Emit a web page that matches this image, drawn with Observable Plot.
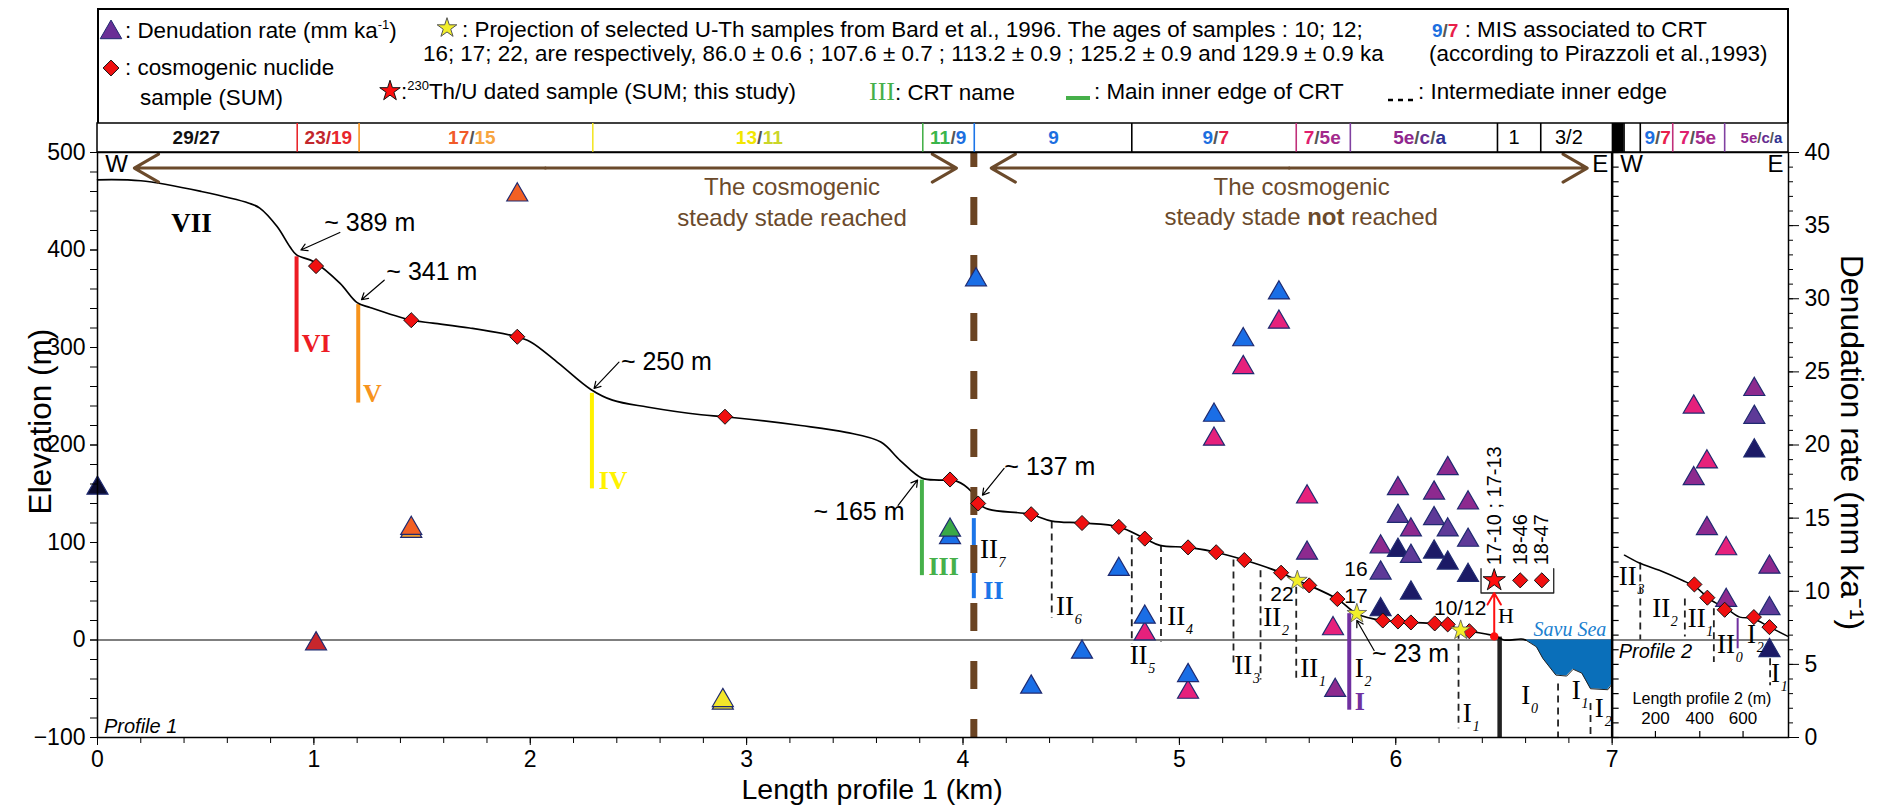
<!DOCTYPE html>
<html><head><meta charset="utf-8">
<script src="https://cdn.jsdelivr.net/npm/d3@7"></script>
<script src="https://cdn.jsdelivr.net/npm/@observablehq/plot@0.6"></script>
<style>
body{margin:0;background:#fff;}
#page{position:relative;width:1881px;height:811px;overflow:hidden;font-family:"Liberation Sans",Arial,sans-serif;background:#fff;}
#legend{position:absolute;left:97px;top:8px;width:1692px;height:116px;box-sizing:border-box;border:2px solid #000;border-bottom:none;}
.lg{position:absolute;white-space:nowrap;font-size:22.4px;line-height:26px;color:#000;}
.lg sup{font-size:13px;vertical-align:9px;line-height:0;}
#chart{position:absolute;left:0;top:123px;}
</style></head>
<body><div id="page"><div id="legend"></div><div id="chart"></div></div>
<script>
// ---------------- DATA ----------------
const profile1 = [[0,472],[0.2,471],[0.48,460],[0.7,448],[0.75,443],[0.83,424],[0.89,403],[0.92,395],[1.0,388],[1.12,366],[1.2,346],[1.26,341],[1.45,328],[1.55,325],[1.72,320],[1.92,312],[2.0,306],[2.13,284],[2.28,257],[2.38,246],[2.54,239],[2.79,231],[2.9,229],[3.25,220],[3.46,213],[3.62,203],[3.71,184],[3.81,166],[3.89,164],[3.97,163],[4.04,152],[4.07,140],[4.12,134],[4.31,129],[4.41,122],[4.55,120],[4.72,116],[4.84,104],[4.91,97],[5.04,95],[5.17,90],[5.30,82],[5.47,69],[5.545,61],[5.60,56],[5.73,42],[5.82,27],[5.94,20],[6.01,19],[6.07,18],[6.18,17],[6.24,16],[6.30,10],[6.34,9],[6.46,4],[6.50,0],[6.58,1],[6.60,0]];
const seaFloor = [[6.60,0],[6.65,-7],[6.68,-19],[6.74,-36],[6.79,-37],[6.82,-30],[6.86,-34],[6.90,-50],[6.98,-51],[7.0,-45]];
const profile2 = [[7.057,87],[7.126,79],[7.218,71.5],[7.326,61],[7.388,54],[7.45,42],[7.53,32],[7.59,23.5],[7.65,22],[7.73,13],[7.81,4]];

const cosmoSamples = [[1.01,383.5],[1.45,328],[1.94,311],[2.90,229],[3.94,164.6],[4.07,140],[4.315,129],[4.55,120],[4.72,116],[4.84,104],[5.04,95],[5.17,90],[5.30,82],[5.47,69],[5.60,56],[5.73,42],[5.94,20],[6.01,19],[6.07,18],[6.18,17],[6.24,16],[6.34,9],
  [7.38,57],[7.44,43.4],[7.52,31],[7.655,23.5],[7.727,13.2]];
const bardStars = [[5.545,61],[5.82,27],[6.30,10]];
const bardLabels = [{t:"22",x:5.474,y:46.8},{t:"16",x:5.816,y:72.5},{t:"17",x:5.816,y:45},{t:"10/12",x:6.298,y:33}];

const denudation = [
  {x:0.00,r:17.05,c:"black"},{x:1.01,r:6.41,c:"red"},{x:1.45,r:14.1,c:"amber"},{x:1.45,r:14.3,c:"orange"},{x:1.94,r:37.1,c:"orange"},
  {x:2.89,r:2.35,c:"yellow"},{x:2.89,r:2.53,c:"yellow"},{x:3.94,r:13.67,c:"blue"},{x:3.94,r:14.18,c:"green"},
  {x:4.06,r:31.3,c:"blue"},{x:4.315,r:3.45,c:"blue"},{x:4.55,r:5.84,c:"blue"},{x:4.72,r:11.5,c:"blue"},
  {x:4.84,r:7.09,c:"pink"},{x:4.84,r:8.23,c:"blue"},{x:5.04,r:3.1,c:"pink"},{x:5.04,r:4.24,c:"blue"},
  {x:5.16,r:20.4,c:"pink"},{x:5.16,r:22.04,c:"blue"},{x:5.295,r:25.3,c:"pink"},{x:5.295,r:27.2,c:"blue"},
  {x:5.46,r:28.4,c:"pink"},{x:5.46,r:30.4,c:"blue"},{x:5.59,r:16.45,c:"pink"},{x:5.59,r:12.61,c:"purple"},
  {x:5.71,r:7.44,c:"pink"},{x:5.72,r:3.22,c:"purple"},
  {x:5.93,r:13.03,c:"purple"},{x:5.93,r:11.25,c:"violet"},{x:5.93,r:8.74,c:"navy"},
  {x:6.01,r:17.02,c:"purple"},{x:6.01,r:15.13,c:"violet"},{x:6.01,r:12.8,c:"navy"},
  {x:6.07,r:14.2,c:"purple"},{x:6.07,r:12.39,c:"violet"},{x:6.07,r:9.88,c:"navy"},
  {x:6.177,r:16.72,c:"purple"},{x:6.177,r:14.97,c:"violet"},{x:6.177,r:12.68,c:"navy"},
  {x:6.24,r:18.39,c:"purple"},{x:6.24,r:14.2,c:"violet"},{x:6.24,r:11.93,c:"navy"},
  {x:6.334,r:16.04,c:"purple"},{x:6.334,r:13.49,c:"violet"},{x:6.334,r:11.09,c:"navy"},
  {x:7.377,r:22.6,c:"pink"},{x:7.377,r:17.7,c:"purple"},{x:7.438,r:18.85,c:"pink"},{x:7.438,r:14.29,c:"purple"},
  {x:7.527,r:12.91,c:"pink"},{x:7.527,r:9.38,c:"purple"},
  {x:7.657,r:23.8,c:"purple"},{x:7.657,r:21.9,c:"violet"},{x:7.657,r:19.6,c:"navy"},
  {x:7.727,r:11.65,c:"purple"},{x:7.727,r:8.81,c:"violet"},{x:7.727,r:5.95,c:"navy"}
];
const triColors = {black:"#0b0b2e",red:"#c8262c",orange:"#f26024",amber:"#f0a030",yellow:"#f3e62a",green:"#3aa847",blue:"#1a6ee6",pink:"#e6217c",purple:"#8d2a8f",violet:"#5e3a98",navy:"#1c1a66"};

const crtEdges = [
  {x:0.92,y1:393,y2:295,c:"#ed1c24",t:"VI",lx:0.944,ly:295.6},
  {x:1.205,y1:344,y2:243,c:"#f7941d",t:"V",lx:1.227,ly:244.3},
  {x:2.285,y1:253,y2:155,c:"#fff200",t:"IV",lx:2.316,ly:155.3},
  {x:3.81,y1:164,y2:66,c:"#46b04a",t:"III",lx:3.84,ly:66.3},
  {x:4.05,y1:124.5,y2:42.4,c:"#1c75e8",t:"II",lx:4.094,ly:42.4},
  {x:5.785,y1:27,y2:-72,c:"#7030a0",t:"I",lx:5.81,ly:-72}
];
const innerEdges = [
  {x:4.41,y1:121,y2:22},{x:4.78,y1:107,y2:-4},{x:4.915,y1:97,y2:-2},{x:5.25,y1:82,y2:-28},
  {x:5.375,y1:71,y2:-41},{x:5.54,y1:54,y2:-41},{x:6.29,y1:8,y2:-91},{x:6.75,y1:-45,y2:-100},{x:6.90,y1:-65,y2:-100},
  {x:7.13,y1:79,y2:0},{x:7.336,y1:42,y2:3},{x:7.47,y1:32,y2:-23},{x:7.73,y1:-7,y2:-47}
];
const edgeLabels = [
  {m:"II",s:"7",x:4.078,y:83.6},{m:"II",s:"6",x:4.43,y:25.2},{m:"II",s:"5",x:4.77,y:-24.3},{m:"II",s:"4",x:4.944,y:15},
  {m:"II",s:"3",x:5.254,y:-34.6},{m:"II",s:"2",x:5.388,y:13.9},{m:"II",s:"1",x:5.559,y:-38},{m:"I",s:"2",x:5.81,y:-38},
  {m:"I",s:"1",x:6.31,y:-84.3},{m:"I",s:"0",x:6.58,y:-65.4},{m:"I",s:"1",x:6.813,y:-60.2},{m:"I",s:"2",x:6.92,y:-79},
  {m:"II",s:"3",x:7.031,y:56},{m:"II",s:"2",x:7.185,y:24},{m:"II",s:"1",x:7.349,y:13},{m:"II",s:"0",x:7.485,y:-13.4},
  {m:"I",s:"2",x:7.623,y:-3},{m:"I",s:"1",x:7.734,y:-43}
];
const p2MainEdge = [{x:7.58,y1:22,y2:-9}];
const shoreline = [{x:6.48,y1:3,y2:-100}];

const elevNotes = [
  {t:"~ 389 m",x:1.048,y:420,ax1:1.12,ay1:418,ax2:0.94,ay2:400},
  {t:"~ 341 m",x:1.335,y:369,ax1:1.325,ay1:369,ax2:1.22,ay2:349},
  {t:"~ 250 m",x:2.419,y:277,ax1:2.41,ay1:285,ax2:2.295,ay2:258},
  {t:"~ 165 m",x:3.309,y:123,ax1:3.70,ay1:138,ax2:3.79,ay2:164},
  {t:"~ 137 m",x:4.191,y:169,ax1:4.19,ay1:176,ax2:4.09,ay2:148.5},
  {t:"~ 23 m",x:5.89,y:-22.7,ax1:5.90,ay1:-10.7,ax2:5.82,ay2:20}
];
const steadyArrows = [{a:0.17,b:3.97,y:484},{a:4.13,b:6.885,y:484}];
const steadyBoundary = 4.05;
const steadyTexts = [
  {x:3.21,y:464.5,t:"The cosmogenic"},{x:3.21,y:433,t:"steady stade reached"},
  {x:5.565,y:464.5,t:"The cosmogenic"}
];
const dirLabels = [{t:"W",x:0.088},{t:"E",x:6.945},{t:"W",x:7.09},{t:"E",x:7.755}];

const thuSample = {x:6.455,y:61.2,base:3.7};
const thuBoxDiamonds = [[6.575,61.2],[6.675,61.2]];
const thuBox = [[6.394,73.2],[6.394,48.2],[6.73,48.2],[6.73,73.2]];
const thuLabels = [{t:"17-10 ; 17-13",x:6.455},{t:"18-46",x:6.575},{t:"18-47",x:6.675}];

const misBorders = [{x:0.923,c:"#e8262c"},{x:1.209,c:"#f7941d"},{x:2.289,c:"#f3e62a"},{x:3.814,c:"#46b04a"},{x:4.052,c:"#1c75e8"},
  {x:4.78,c:"#000"},{x:5.54,c:"#c0307a"},{x:5.79,c:"#8040a0"},{x:6.47,c:"#000"},{x:6.67,c:"#000"},{x:7.055,c:"#000"},{x:7.13,c:"#000"},{x:7.28,c:"#c0307a"},{x:7.52,c:"#8040a0"}];
const misLabels = [
  {x:0.457,bold:true,parts:[["29/27","#111"]]},
  {x:1.067,bold:true,parts:[["23","#c1272d"],["/","#c1272d"],["19","#e8262c"]]},
  {x:1.73,bold:true,parts:[["17","#f15a29"],["/","#555"],["15","#f7a540"]]},
  {x:3.06,bold:true,parts:[["13","#f2e600"],["/","#555"],["11","#cbd62a"]]},
  {x:3.93,bold:true,parts:[["11","#39b54a"],["/","#555"],["9","#1c6fe0"]]},
  {x:4.418,bold:true,parts:[["9","#1c6fe0"]]},
  {x:5.168,bold:true,parts:[["9","#1c6fe0"],["/","#555"],["7","#e8204a"]]},
  {x:5.66,bold:true,parts:[["7","#e0206e"],["/","#555"],["5e","#a32a8c"]]},
  {x:6.11,bold:true,parts:[["5e","#92278f"],["/","#555"],["c","#662d91"],["/","#555"],["a","#2e3192"]]},
  {x:6.547,bold:false,parts:[["1","#000"]]},
  {x:6.80,bold:false,parts:[["3/2","#000"]]},
  {x:7.21,bold:true,parts:[["9","#1c6fe0"],["/","#555"],["7","#e8204a"]]},
  {x:7.395,bold:true,parts:[["7","#e0206e"],["/","#555"],["5e","#a32a8c"]]},
  {x:7.69,bold:true,small:true,parts:[["5e","#92278f"],["/","#555"],["c","#662d91"],["/","#555"],["a","#2e3192"]]}
];
const profile2Break = [7.0, 7.055];

const xMajor = [0,1,2,3,4,5,6,7];
const xMinor = d3.range(0, 7.001, 0.2);
const yMajor = [-100,0,100,200,300,400,500];
const yMinor = d3.range(-100, 501, 20);
const rateMajor = [0,5,10,15,20,25,30,35,40];
const rateMinor = d3.range(0, 41, 1);
const profile2Ticks = [200,400,600];

// ---------------- HELPERS ----------------
const toElev = r => -100 + 15 * r;
const p2x = m => 7 + m / 1000 + (m === 200 ? 0 : 0.005);
const xMax = 7.815;
const PLOT_L = 97, PLOT_R = 1788, M_TOP = 29, PLOT_B = 614;
const pxPerKm = (PLOT_R - PLOT_L) / xMax;
const pxPerM = (PLOT_B - M_TOP) / 600;
const BAND_TOP = 500 + M_TOP / pxPerM;
const brown = "#6b4a2b";
const serif = "'Liberation Serif','DejaVu Serif',serif";
const sans = "'Liberation Sans',Arial,sans-serif";

const cw = ch => (ch === "/" ? 0.278 : 0.556);
const misParts = [];
for (const L of misLabels) {
  const fs = L.small ? 15 : 19;
  const widths = L.parts.map(([t]) => [...t].reduce((s, c) => s + cw(c), 0) * fs);
  const total = d3.sum(widths);
  let cur = -total / 2;
  L.parts.forEach(([t, col], i) => {
    misParts.push({x: L.x + (cur + widths[i] / 2) / pxPerKm, t, col, fs, bold: L.bold});
    cur += widths[i];
  });
}
const subX = d => d.x + (d.m.length * 8.8 + 1) / pxPerKm;

// ---------------- CHART ----------------
const txt = (data, o) => Plot.text(data, {fontFamily: sans, ...o});
const chart = Plot.plot({
  width: 1881, height: 688,
  marginLeft: PLOT_L, marginRight: 1881 - PLOT_R, marginTop: M_TOP, marginBottom: 688 - PLOT_B,
  x: {domain: [0, xMax]},
  y: {domain: [-100, 500]},
  color: {type: "identity"},
  style: {fontFamily: sans, fontSize: "22px", background: "white", overflow: "visible"},
  marks: [
    // MIS band
    Plot.rect([profile2Break], {x1: d => d[0], x2: d => d[1], y1: 500, y2: BAND_TOP, fill: "#000"}),
    Plot.rect([0], {x1: 0, x2: xMax, y1: 500, y2: BAND_TOP, stroke: "#000", strokeWidth: 1.5, fill: "none"}),
    Plot.ruleX(misBorders, {x: "x", y1: 500, y2: BAND_TOP, stroke: "c", strokeWidth: 1.6}),
    txt(misParts.filter(d => d.bold && d.fs === 19), {x: "x", y: (500 + BAND_TOP) / 2, text: "t", fill: "col", fontWeight: "bold", fontSize: 19}),
    txt(misParts.filter(d => d.bold && d.fs === 15), {x: "x", y: (500 + BAND_TOP) / 2, text: "t", fill: "col", fontWeight: "bold", fontSize: 15}),
    txt(misParts.filter(d => !d.bold), {x: "x", y: (500 + BAND_TOP) / 2, text: "t", fill: "col", fontSize: 20}),

    // sea level and sea
    Plot.ruleY([0], {x1: 0, x2: xMax, stroke: "#555", strokeWidth: 1.6}),
    Plot.areaY(seaFloor, {x: d => d[0], y1: 0, y2: d => d[1], fill: "#0a6fba"}),
    Plot.line(seaFloor, {x: d => d[0], y: d => d[1], stroke: "#222", strokeWidth: 1}),

    // CRT inner edges
    Plot.ruleX(crtEdges, {x: "x", y1: "y1", y2: "y2", stroke: "c", strokeWidth: 4}),
    Plot.ruleX(innerEdges, {x: "x", y1: "y1", y2: "y2", stroke: "#222", strokeWidth: 1.8, strokeDasharray: "7,5"}),
    Plot.ruleX(p2MainEdge, {x: "x", y1: "y1", y2: "y2", stroke: "#7030a0", strokeWidth: 2}),
    Plot.ruleX(shoreline, {x: "x", y1: "y1", y2: "y2", stroke: "#222", strokeWidth: 4.5}),

    // topographic profiles
    Plot.line(profile1, {x: d => d[0], y: d => d[1], stroke: "#000", strokeWidth: 1.7, curve: "catmull-rom"}),
    Plot.line(profile2, {x: d => d[0], y: d => d[1], stroke: "#000", strokeWidth: 1.5, curve: "catmull-rom"}),

    // steady-state boundary and arrows
    Plot.ruleX([steadyBoundary], {y1: 500, y2: -100, stroke: "#6b4423", strokeWidth: 7, strokeDasharray: "28,30", strokeDashoffset: 13}),
    Plot.arrow(steadyArrows, {x1: d => (d.a + d.b) / 2, x2: "a", y1: "y", y2: "y", stroke: brown, strokeWidth: 3, headLength: 14}),
    Plot.arrow(steadyArrows, {x1: d => (d.a + d.b) / 2, x2: "b", y1: "y", y2: "y", stroke: brown, strokeWidth: 3, headLength: 14}),
    txt(steadyTexts, {x: "x", y: "y", text: "t", fill: brown, fontSize: 24}),

    // profile separation at 7 km with rate ticks
    Plot.ruleX([7], {y1: -100, y2: 500, stroke: "#000", strokeWidth: 2.5}),
    Plot.ruleY(rateMinor, {x1: 7, x2: 7 + 7 / pxPerKm, y: d => toElev(d), stroke: "#000", strokeWidth: 1.2}),
    Plot.ruleX(profile2Ticks, {x: p2x, y1: -100, y2: -100 + 6 / pxPerM, stroke: "#000", strokeWidth: 1.2}),

    // elevation notes
    Plot.arrow(elevNotes, {x1: "ax1", y1: "ay1", x2: "ax2", y2: "ay2", stroke: "#000", strokeWidth: 1.2, headLength: 9}),
    txt(elevNotes, {x: "x", y: "y", text: "t", textAnchor: "start", lineAnchor: "bottom", fontSize: 25}),

    // samples
    Plot.dot(denudation, {x: "x", y: d => toElev(d.r), symbol: "triangle", r: 7.8, fill: d => triColors[d.c], stroke: "#1f2a70", strokeWidth: 1.2}),
    Plot.dot(cosmoSamples, {x: d => d[0], y: d => d[1], symbol: "diamond2", r: 6.8, fill: "#f01010", stroke: "#111", strokeWidth: 1}),
    Plot.dot(bardStars, {x: d => d[0], y: d => d[1], symbol: "star", r: 6.2, fill: "#f2ee2a", stroke: "#555", strokeWidth: 0.8}),
    txt(bardLabels, {x: "x", y: "y", text: "t", fontSize: 21}),

    // Th/U sample inset
    Plot.line(thuBox, {x: d => d[0], y: d => d[1], stroke: "#222", strokeWidth: 1.3}),
    Plot.arrow([thuSample], {x1: "x", x2: "x", y1: "base", y2: 48.2, stroke: "#ff1010", strokeWidth: 2, headLength: 10}),
    Plot.dot([thuSample], {x: "x", y: "base", r: 4.2, fill: "#ff1010"}),
    Plot.dot([thuSample], {x: "x", y: "y", symbol: "star", r: 7, fill: "#ff1010", stroke: "#111", strokeWidth: 1}),
    Plot.dot(thuBoxDiamonds, {x: d => d[0], y: d => d[1], symbol: "diamond2", r: 6.8, fill: "#f01010", stroke: "#111", strokeWidth: 1}),
    txt(thuLabels, {x: "x", y: 76.6, text: "t", rotate: -90, textAnchor: "start", fontSize: 20}),
    Plot.text(["H"], {x: 6.509, y: 24.7, text: d => d, fontFamily: serif, fontSize: 22}),
    Plot.text(["Savu Sea"], {x: 6.637, y: 11, text: d => d, textAnchor: "start", fontFamily: serif, fontStyle: "italic", fontSize: 20, fill: "#1a7fd0"}),

    // CRT names and inner-edge labels
    Plot.text(crtEdges, {x: "lx", y: "ly", text: "t", fill: "c", textAnchor: "start", lineAnchor: "bottom", fontFamily: serif, fontWeight: "bold", fontSize: 26}),
    Plot.text(["VII"], {x: 0.434, y: 427, text: d => d, fontFamily: serif, fontWeight: "bold", fontSize: 27}),
    Plot.text(edgeLabels, {x: "x", y: "y", text: "m", textAnchor: "start", lineAnchor: "bottom", fontFamily: serif, fontSize: 27}),
    Plot.text(edgeLabels, {x: subX, y: "y", text: "s", textAnchor: "start", lineAnchor: "bottom", dy: 9, fontFamily: serif, fontStyle: "italic", fontSize: 14}),

    // direction letters, profile names, profile-2 length axis
    txt(dirLabels, {x: "x", y: 488, text: "t", fontSize: 24}),
    txt(["Profile 1"], {x: 0.03, y: -95.6, text: d => d, textAnchor: "start", lineAnchor: "bottom", fontStyle: "italic", fontSize: 20}),
    txt(["Profile 2"], {x: 7.2, y: -12.4, text: d => d, fontStyle: "italic", fontSize: 20}),
    txt(["Length profile 2 (m)"], {x: 7.415, y: -60.3, text: d => d, fontSize: 16}),
    txt(profile2Ticks, {x: p2x, y: -80.8, text: d => String(d), fontSize: 17}),

    // axes
    Plot.axisY({ticks: yMajor, anchor: "left", tickSize: 7, tickPadding: 5, fontSize: 23, label: null}),
    Plot.ruleY(yMinor, {x1: 0, x2: -7 / pxPerKm, stroke: "#000", strokeWidth: 1}),
    Plot.axisY({ticks: rateMajor.map(toElev), anchor: "right", tickSize: 10, tickPadding: 6, fontSize: 23, tickFormat: d => String(Math.round((d + 100) / 15)), label: null}),
    Plot.ruleY(rateMinor, {y: d => toElev(d), x1: xMax, x2: xMax + 5 / pxPerKm, stroke: "#000", strokeWidth: 1}),
    Plot.axisX({ticks: xMajor, anchor: "bottom", tickSize: 8, tickPadding: 5, fontSize: 23, label: null}),
    Plot.ruleX(xMinor, {y1: -100, y2: -100 - 6 / pxPerM, stroke: "#000", strokeWidth: 1}),
    Plot.frame({stroke: "#000", strokeWidth: 1.5}),
    txt(["Elevation (m)"], {frameAnchor: "left", y: 224, dx: -57, rotate: -90, textAnchor: "middle", text: d => d, fontSize: 31.5}),
    txt(["Denudation rate (mm ka⁻¹)"], {frameAnchor: "right", y: 202.6, dx: 63, rotate: 90, textAnchor: "middle", text: d => d, fontSize: 32}),
    txt(["Length profile 1 (km)"], {x: 3.58, frameAnchor: "bottom", dy: 61, text: d => d, fontSize: 28.5})
  ]
});
document.getElementById("chart").appendChild(chart);

// ---------------- LEGEND (HTML above the chart) ----------------
const page = document.getElementById("page");
function lg(html, left, cy, style = "") {
  const d = document.createElement("div");
  d.className = "lg"; d.style.left = left + "px"; d.style.top = (cy - 13) + "px";
  d.innerHTML = html; if (style) d.style.cssText += style; page.appendChild(d);
  return d;
}
function icon(inner, cx, cy, w, h) {
  const d = document.createElement("div");
  d.style.cssText = `position:absolute;left:${cx - w / 2}px;top:${cy - h / 2}px;width:${w}px;height:${h}px;`;
  d.innerHTML = `<svg width="${w}" height="${h}" viewBox="${-w / 2} ${-h / 2} ${w} ${h}">${inner}</svg>`;
  page.appendChild(d);
}
const starPath = s => d3.symbol(d3.symbolStar, s)();
icon(`<path d="${d3.symbol(d3.symbolTriangle, 200)()}" transform="translate(0,1.5)" fill="#6a2f96" stroke="#1f2a70"/>`, 111, 31, 24, 24);
lg(": Denudation rate (mm ka<sup>-1</sup>)", 125, 31);
icon(`<path d="${d3.symbol(d3.symbolDiamond2, 160)()}" fill="#f01010" stroke="#111"/>`, 111, 68, 22, 22);
lg(": cosmogenic nuclide", 125, 68);
lg("sample (SUM)", 140, 98);
icon(`<path d="${starPath(120)}" fill="#f2ee2a" stroke="#555"/>`, 447, 28, 24, 24);
lg(": Projection of selected U-Th samples from Bard et al., 1996. The ages of samples : 10; 12;", 462, 30);
lg("16; 17; 22, are respectively, 86.0 ± 0.6 ; 107.6 ± 0.7 ; 113.2 ± 0.9 ; 125.2 ± 0.9 and 129.9 ± 0.9 ka", 423, 54);
icon(`<path d="${starPath(130)}" fill="#ff1010" stroke="#111"/>`, 390, 91, 24, 24);
lg(":<sup>230</sup>Th/U dated sample (SUM; this study)", 401, 92);
lg(`<span style="font-family:${serif};color:#46b04a;font-size:26px">III</span>: CRT name`, 869, 92);
icon(`<line x1="-12" x2="12" y1="0" y2="0" stroke="#46b04a" stroke-width="4"/>`, 1078, 92, 26, 8);
lg(": Main inner edge of CRT", 1094, 92);
icon(`<line x1="-13" x2="13" y1="0" y2="0" stroke="#000" stroke-width="2.5" stroke-dasharray="5,5"/>`, 1401, 92, 28, 6);
lg(": Intermediate inner edge", 1418, 92);
lg(`<b style="font-size:19px"><span style="color:#1c6fe0">9</span><span style="color:#555">/</span><span style="color:#e8204a">7</span></b> : MIS associated to CRT`, 1432, 30);
lg("(according to Pirazzoli et al.,1993)", 1429, 54);

// second line of the right-hand steady-state text, with "not" in bold
{
  const xs = chart.scale("x"), ys = chart.scale("y");
  const cx = xs.apply(5.565), cy = ys.apply(433) + 123;
  const d = lg(`steady stade <b>not</b> reached`, 0, cy, `font-size:24px;color:${brown};line-height:28px;`);
  d.style.top = (cy - 14) + "px";
  const w = d.getBoundingClientRect().width;
  d.style.left = (cx - w / 2) + "px";
}
</script>
</body></html>
